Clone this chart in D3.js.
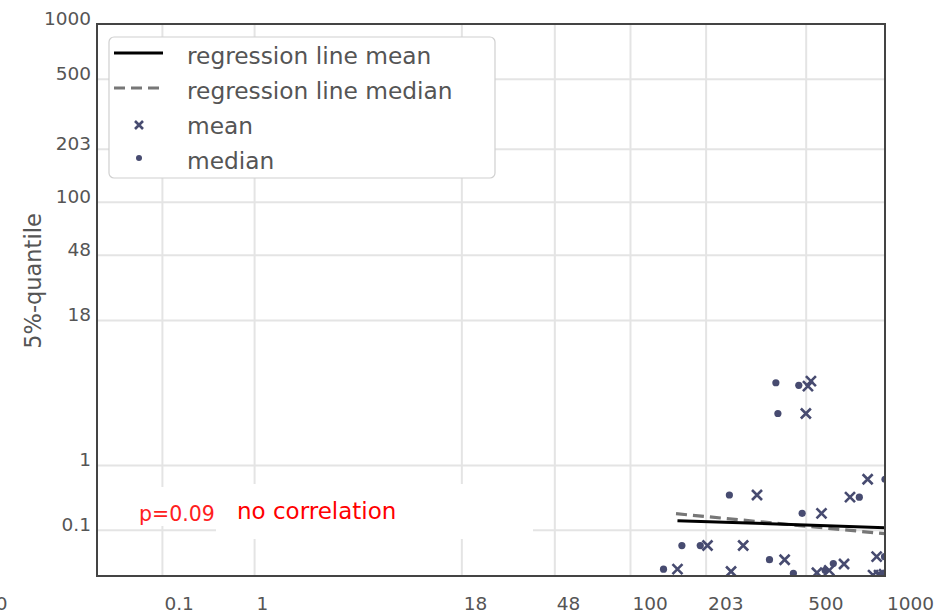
<!DOCTYPE html>
<html>
<head>
<meta charset="utf-8">
<script src="https://cdn.jsdelivr.net/npm/d3@7"></script>
<style>
  body { margin: 0; background: #fff; }
  svg { display: block; font-family: "DejaVu Sans", sans-serif; }
</style>
</head>
<body>
<svg id="chart" width="946" height="616"></svg>
<script>
// ---- data ----
const xTickValues = [0, 0.1, 1, 18, 48, 100, 203, 500, 1000];
const yTickValues = [0.1, 1, 18, 48, 100, 203, 500, 1000];

// per-group mean (x markers)
const meanX = [530, 511, 499, 890, 354, 778, 597, 207, 313, 436, 164, 277, 568, 646, 740, 947, 924, 962, 994];
const meanY = [10.9, 10.3, 7.1, 0.81, 0.59, 0.56, 0.335, 0.087, 0.087, 0.075, 0.067, 0.065, 0.064, 0.066, 0.0714, 0.0776, 0.062, 0.062, 0.0627];

// per-group median (dots)
const medianX = [410, 478, 416, 1000, 272, 837, 488, 170, 195, 391, 145, 462, 620, 672, 997, 968];
const medianY = [10.7, 10.4, 7.1, 0.81, 0.59, 0.56, 0.335, 0.087, 0.087, 0.075, 0.067, 0.0635, 0.066, 0.0718, 0.0776, 0.062];

// fitted regression lines (end points)
const regMeanX = [164, 1000];
const regMeanY = [0.232, 0.135];
const regMedianX = [162, 1000];
const regMedianY = [0.33, 0.097];

const pValue = 0.09;
const verdict = "no correlation";
const yLabel = "5%-quantile";
const legendLabels = ["regression line mean", "regression line median", "mean", "median"];

// ---- axis transform: piecewise stops of the compressed axis ----
const axisStops = [0, 0.1, 1, 18, 48, 100, 203, 500, 1000];
const axisFrac  = [-0.131, 0.083, 0.2, 0.463, 0.581, 0.677, 0.773, 0.9, 1.0];

const plot = { left: 97, top: 24, right: 885, bottom: 576 };
const W = plot.right - plot.left, H = plot.bottom - plot.top;

const x = d3.scaleLinear().domain(axisStops).range(axisFrac.map(f => plot.left + f * W));
const y = d3.scaleLinear().domain(axisStops).range(axisFrac.map(f => plot.bottom - f * H));

const markColor = "#474b70";
const textColor = "#555";
const fmt = d3.format("~g");

const svg = d3.select("#chart");

svg.append("defs").append("clipPath").attr("id", "plotClip")
  .append("rect").attr("x", plot.left).attr("y", plot.top).attr("width", W).attr("height", H);

// gridlines
const grid = svg.append("g").attr("stroke", "#e4e4e4").attr("stroke-width", 2);
grid.selectAll("line.gx").data(xTickValues.filter(v => x(v) >= plot.left && x(v) <= plot.right))
  .join("line").attr("class", "gx")
  .attr("x1", d => x(d)).attr("x2", d => x(d)).attr("y1", plot.top).attr("y2", plot.bottom);
grid.selectAll("line.gy").data(yTickValues.filter(v => y(v) >= plot.top && y(v) <= plot.bottom))
  .join("line").attr("class", "gy")
  .attr("y1", d => y(d)).attr("y2", d => y(d)).attr("x1", plot.left).attr("x2", plot.right);

// x axis labels
const xAxis = svg.append("g").attr("transform", `translate(0,${plot.bottom})`)
  .call(d3.axisBottom(x).tickValues(xTickValues).tickFormat(fmt).tickSize(0));
xAxis.select(".domain").remove();
xAxis.selectAll("text")
  .attr("text-anchor", "start").attr("x", 1.5).attr("y", 34).attr("dy", null)
  .attr("fill", textColor).style("font-size", "18.5px").style("font-family", "DejaVu Sans");

// y axis labels
const yAxis = svg.append("g").attr("transform", `translate(${plot.left},0)`)
  .call(d3.axisLeft(y).tickValues(yTickValues).tickFormat(fmt).tickSize(0));
yAxis.select(".domain").remove();
yAxis.selectAll("text")
  .attr("x", -6).attr("y", 0).attr("dy", null)
  .attr("fill", textColor).style("font-size", "18.5px").style("font-family", "DejaVu Sans");

// y axis title
svg.append("text")
  .attr("transform", `translate(41,${(plot.top + plot.bottom) / 2 - 19}) rotate(-90)`)
  .attr("text-anchor", "middle").attr("fill", textColor)
  .style("font-size", "22.5px").text(yLabel);

// annotation boxes and texts
const ann = svg.append("g");
ann.append("rect").attr("x", 120).attr("y", 487).attr("width", 96).attr("height", 39).attr("fill", "#fff");
ann.append("rect").attr("x", 216).attr("y", 484).attr("width", 317).attr("height", 55).attr("fill", "#fff");
ann.append("text").attr("x", 139).attr("y", 521).attr("fill", "#ff2020")
  .style("font-size", "20.5px").text(`p=${pValue}`);
ann.append("text").attr("x", 237).attr("y", 519).attr("fill", "#ff0000")
  .style("font-size", "23px").text(verdict);

// data marks
const marks = svg.append("g").attr("clip-path", "url(#plotClip)");
const xPath = s => `M${-s},${-s}L${s},${s}M${-s},${s}L${s},${-s}`;

marks.selectAll("path.mean").data(meanX.map((v, i) => [v, meanY[i]]))
  .join("path").attr("class", "mean")
  .attr("transform", d => `translate(${x(d[0])},${y(d[1])})`)
  .attr("d", xPath(5)).attr("stroke", markColor).attr("stroke-width", 2.6).attr("fill", "none");

marks.selectAll("circle.median").data(medianX.map((v, i) => [v, medianY[i]]))
  .join("circle").attr("class", "median")
  .attr("cx", d => x(d[0])).attr("cy", d => y(d[1])).attr("r", 3.6).attr("fill", markColor);

const line = d3.line().x(d => x(d[0])).y(d => y(d[1]));
marks.append("path").datum(regMedianX.map((v, i) => [v, regMedianY[i]]))
  .attr("d", line).attr("stroke", "#777").attr("stroke-width", 3.2)
  .attr("stroke-dasharray", "11,6").attr("fill", "none");
marks.append("path").datum(regMeanX.map((v, i) => [v, regMeanY[i]]))
  .attr("d", line).attr("stroke", "#000").attr("stroke-width", 3).attr("fill", "none");

// legend
const lg = svg.append("g");
lg.append("rect").attr("x", 109).attr("y", 37).attr("width", 386).attr("height", 141)
  .attr("rx", 5).attr("fill", "#fff").attr("stroke", "#d0d0d0").attr("stroke-width", 1.2);
const rowY = i => 53 + i * 35;
lg.append("line").attr("x1", 114).attr("x2", 163).attr("y1", rowY(0)).attr("y2", rowY(0))
  .attr("stroke", "#000").attr("stroke-width", 3);
lg.append("line").attr("x1", 114).attr("x2", 163).attr("y1", rowY(1)).attr("y2", rowY(1))
  .attr("stroke", "#777").attr("stroke-width", 3).attr("stroke-dasharray", "11,6");
lg.append("path").attr("transform", `translate(139,${rowY(2) + 2})`).attr("d", xPath(4))
  .attr("stroke", markColor).attr("stroke-width", 2.6).attr("fill", "none");
lg.append("circle").attr("cx", 139).attr("cy", rowY(3)).attr("r", 3).attr("fill", markColor);
lg.selectAll("text").data(legendLabels).join("text")
  .attr("x", 187).attr("y", (d, i) => rowY(i) + 11)
  .attr("fill", textColor).style("font-size", "23.3px").text(d => d);

// frame
svg.append("rect").attr("x", plot.left).attr("y", plot.top).attr("width", W).attr("height", H)
  .attr("fill", "none").attr("stroke", "#444").attr("stroke-width", 2);
</script>
</body>
</html>
